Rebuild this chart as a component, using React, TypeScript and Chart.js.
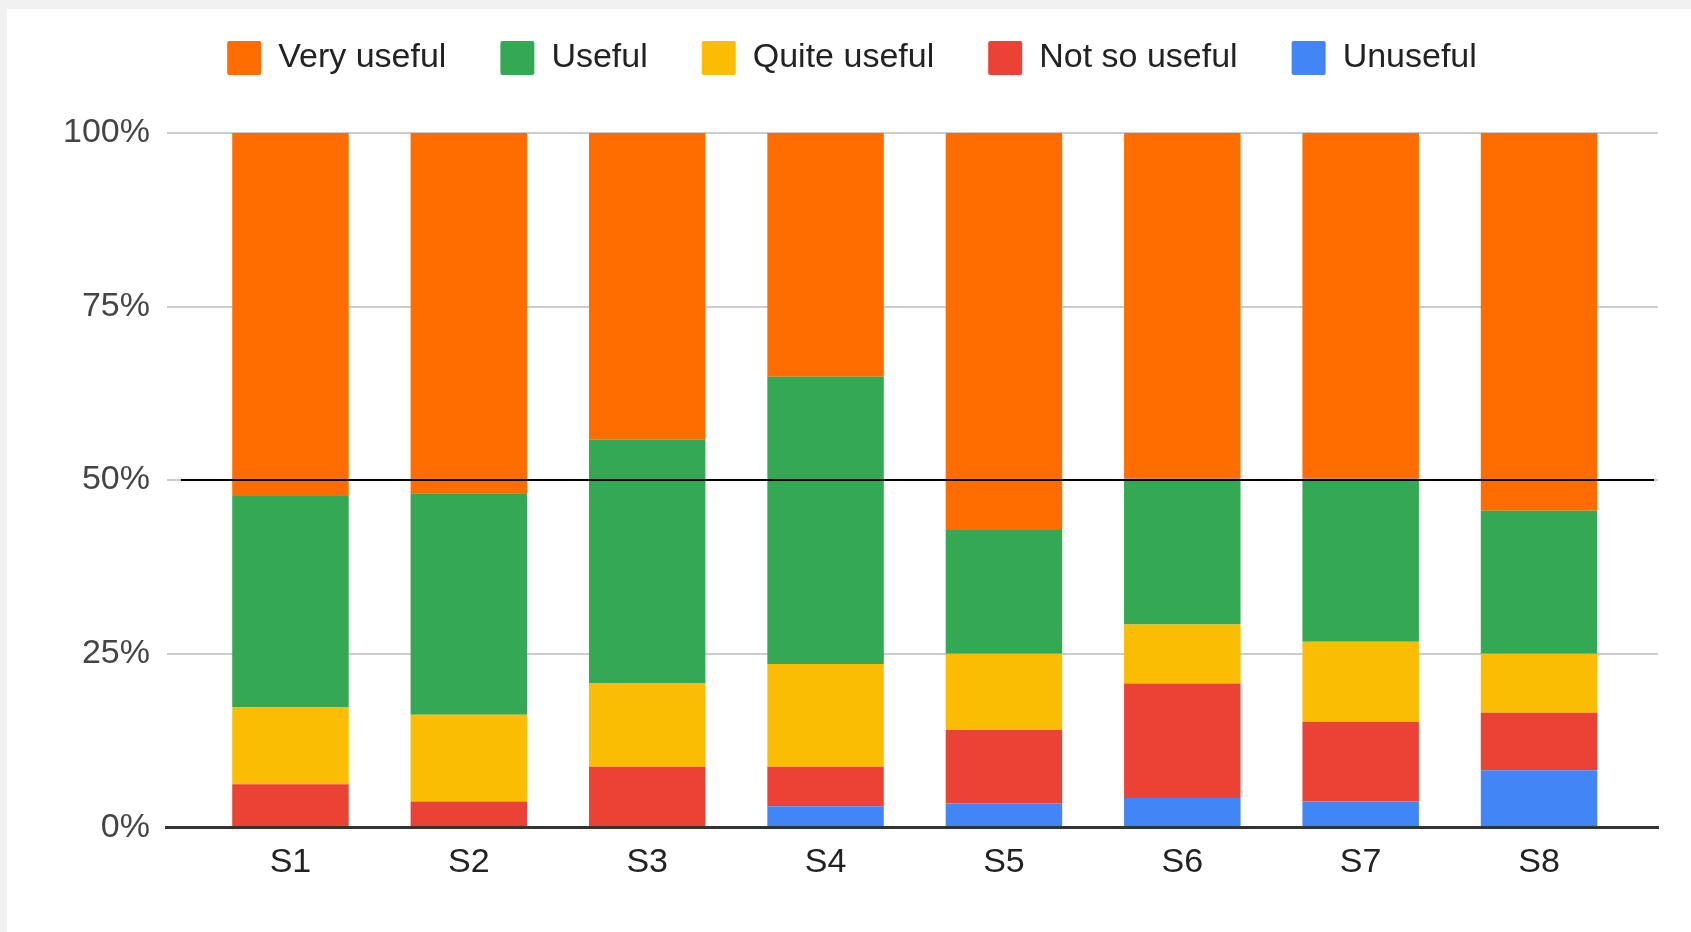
import React, { useEffect, useRef } from 'react';
import { Chart, registerables } from 'chart.js';

Chart.register(...registerables);

// ---- Data (percent of responses) ----
const categories = ['S1', 'S2', 'S3', 'S4', 'S5', 'S6', 'S7', 'S8'];
const unuseful = [0, 0, 0, 3.0, 3.4, 4.2, 3.7, 8.2];
const notSoUseful = [6.2, 3.7, 8.7, 5.7, 10.6, 16.5, 11.5, 8.3];
const quiteUseful = [11.1, 12.5, 12.0, 14.8, 11.0, 8.5, 11.5, 8.5];
const useful = [30.4, 31.9, 35.1, 41.4, 17.8, 21.0, 23.5, 20.6];
const veryUseful = [52.3, 51.9, 44.2, 35.1, 57.2, 49.8, 49.8, 54.4];
const yTickValues = [0, 25, 50, 75, 100];
const referenceLineValue = 50;
const referenceLineSpan = [-0.614, 7.645];

// ---- Styling ----
const seriesDefs = [
  { name: 'Unuseful', values: unuseful, color: '#4285F4' },
  { name: 'Not so useful', values: notSoUseful, color: '#EA4335' },
  { name: 'Quite useful', values: quiteUseful, color: '#FBBC04' },
  { name: 'Useful', values: useful, color: '#34A853' },
  { name: 'Very useful', values: veryUseful, color: '#FF6D01' },
];

const FONT = '"Liberation Sans", Arial, Helvetica, sans-serif';

const legendSpacing = {
  id: 'legendSpacing',
  beforeLayout(chart: any) {
    const legend = chart.legend;
    if (legend && !legend.__patched) {
      legend.__patched = true;
      const orig = legend.fit;
      legend.fit = function () {
        orig.call(this);
        this.height += 48;
      };
    }
  },
};

export default function App() {
  const ref = useRef<HTMLCanvasElement>(null);

  useEffect(() => {
    const canvas = ref.current;
    if (!canvas) return;
    Chart.defaults.font.family = FONT;

    const datasets: any[] = [
      {
        type: 'line',
        label: 'Midpoint',
        data: referenceLineSpan.map((x) => ({ x, y: referenceLineValue })),
        borderColor: '#000000',
        borderWidth: 2,
        pointRadius: 0,
        fill: false,
      },
      ...seriesDefs.map((s) => ({
        type: 'bar',
        label: s.name,
        data: s.values.map((y, i) => ({ x: i, y })),
        backgroundColor: s.color,
        borderWidth: 0,
        barPercentage: 0.653,
        categoryPercentage: 1,
      })),
    ];

    const chart = new Chart(canvas, {
      type: 'bar',
      data: { datasets },
      plugins: [legendSpacing],
      options: {
        animation: false,
        responsive: false,
        events: [],
        layout: { padding: { left: 46, right: 33, top: 0, bottom: 34 } },
        plugins: {
          tooltip: { enabled: false },
          legend: {
            position: 'top',
            reverse: true,
            labels: {
              filter: (item: any) => item.text !== 'Midpoint',
              font: { size: 34, family: FONT },
              color: '#222222',
              boxWidth: 34,
              boxHeight: 34,
              padding: 54,
              useBorderRadius: true,
              borderRadius: 2,
            },
          },
        },
        scales: {
          x: {
            type: 'linear',
            stacked: true,
            offset: false,
            min: -0.6924,
            max: 7.667,
            afterBuildTicks: (scale: any) => {
              scale.ticks = categories.map((_, i) => ({ value: i }));
            },
            grid: { display: false, drawTicks: false, offset: false },
            border: { display: true, color: '#333333', width: 3, z: 1 },
            ticks: {
              autoSkip: false,
              maxRotation: 0,
              padding: 15,
              color: '#222222',
              font: { size: 34, family: FONT },
              callback: (value: any) => categories[value as number] ?? '',
            },
          },
          y: {
            stacked: true,
            min: 0,
            max: 100,
            afterBuildTicks: (scale: any) => {
              scale.ticks = yTickValues.map((v) => ({ value: v }));
            },
            grid: {
              drawTicks: false,
              lineWidth: 2,
              color: (ctx: any) => (ctx.tick && ctx.tick.value === 0 ? 'rgba(0,0,0,0)' : '#cccccc'),
            },
            border: { display: false },
            ticks: {
              padding: 17,
              color: '#444444',
              font: { size: 34, family: FONT },
              callback: (value: any) => `${value}%`,
            },
          },
        },
      } as any,
    });

    return () => chart.destroy();
  }, []);

  return (
    <div
      style={{
        position: 'fixed',
        left: 0,
        top: 0,
        width: 1691,
        height: 932,
        background: '#f1f1f1',
        overflow: 'hidden',
      }}
    >
      <div style={{ position: 'absolute', left: 7, top: 9, right: 0, bottom: 0, background: '#ffffff' }} />
      <canvas
        ref={ref}
        width={1691}
        height={945}
        style={{ position: 'absolute', left: 0, top: -13, width: 1691, height: 945 }}
      />
    </div>
  );
}
